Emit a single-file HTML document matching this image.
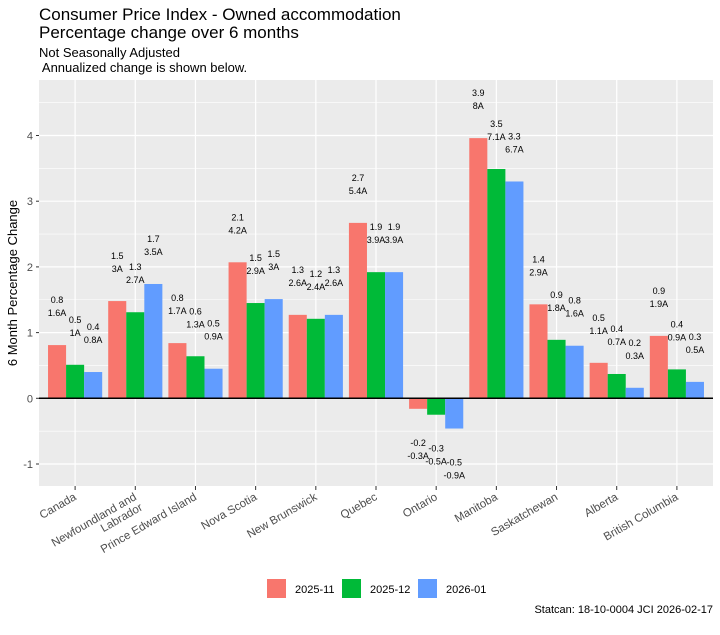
<!DOCTYPE html>
<html><head><meta charset="utf-8"><style>
body{margin:0;background:#fff;font-family:"Liberation Sans",Arial,sans-serif}
svg text{font-family:"Liberation Sans",Arial,sans-serif}
</style></head><body>
<svg id="chart" width="720" height="630" xmlns="http://www.w3.org/2000/svg">
<text x="39" y="20" font-size="17" fill="#000">Consumer Price Index - Owned accommodation</text>
<text x="39" y="38" font-size="17" fill="#000">Percentage change over 6 months</text>
<text x="39" y="57" font-size="13" fill="#000">Not Seasonally Adjusted</text>
<text x="39" y="72" font-size="13" fill="#000" xml:space="preserve"> Annualized change is shown below.</text>
<rect x="39" y="80" width="674" height="406" fill="#ebebeb"/>
<g id="grid"></g><g id="bars"></g><g id="labels"></g><g id="axes"></g>
<text transform="translate(17,283) rotate(-90)" text-anchor="middle" font-size="13" fill="#000">6 Month Percentage Change</text>
<g>
<rect x="267" y="579" width="19" height="19" fill="#f8766d"/>
<text x="295" y="593" font-size="11">2025-11</text>
<rect x="342" y="579" width="19" height="19" fill="#00ba38"/>
<text x="370" y="593" font-size="11">2025-12</text>
<rect x="418" y="579" width="19" height="19" fill="#619cff"/>
<text x="446" y="593" font-size="11">2026-01</text>
</g>
<text x="713" y="613" text-anchor="end" font-size="11">Statcan: 18-10-0004 JCI 2026-02-17</text>
</svg>
<script>
const categories=["Canada","Newfoundland and\nLabrador","Prince Edward Island","Nova Scotia","New Brunswick","Quebec","Ontario","Manitoba","Saskatchewan","Alberta","British Columbia"];
const seriesNames=["2025-11","2025-12","2026-01"];
const s2025_11=[0.81,1.48,0.84,2.07,1.27,2.67,-0.16,3.96,1.43,0.54,0.95];
const s2025_12=[0.51,1.31,0.64,1.45,1.21,1.92,-0.25,3.49,0.89,0.37,0.44];
const s2026_01=[0.40,1.74,0.45,1.51,1.27,1.92,-0.46,3.30,0.80,0.16,0.25];
const lab2025_11=["0.8|1.6A","1.5|3A","0.8|1.7A","2.1|4.2A","1.3|2.6A","2.7|5.4A","-0.2|-0.3A","3.9|8A","1.4|2.9A","0.5|1.1A","0.9|1.9A"];
const lab2025_12=["0.5|1A","1.3|2.7A","0.6|1.3A","1.5|2.9A","1.2|2.4A","1.9|3.9A","-0.3|-0.5A","3.5|7.1A","0.9|1.8A","0.4|0.7A","0.4|0.9A"];
const lab2026_01=["0.4|0.8A","1.7|3.5A","0.5|0.9A","1.5|3A","1.3|2.6A","1.9|3.9A","-0.5|-0.9A","3.3|6.7A","0.8|1.6A","0.2|0.3A","0.3|0.5A"];
const yTicks=[-1,0,1,2,3,4];
const series=[s2025_11,s2025_12,s2026_01];
const labels=[lab2025_11,lab2025_12,lab2026_01];
const colors=["#f8766d","#00ba38","#619cff"];
const NS="http://www.w3.org/2000/svg";
const L=39,R=713,T=80,B=486;
const step=(R-L)/(categories.length+0.2);
const xc=i=>L+step*(0.6+i);
const y=v=>398.3-v*65.7;
function mk(tag,attrs,parent){const e=document.createElementNS(NS,tag);for(const k in attrs)e.setAttribute(k,attrs[k]);parent.appendChild(e);return e;}
const grid=document.getElementById('grid'),bars=document.getElementById('bars'),lg=document.getElementById('labels'),axes=document.getElementById('axes');
for(let v=-1.5;v<=4.5;v+=1){const l=mk('line',{x1:L,x2:R,y1:y(v),y2:y(v),stroke:'#fff','stroke-width':0.6},grid);

}
yTicks.forEach(t=>{const l=mk('line',{x1:L,x2:R,y1:y(t),y2:y(t),stroke:'#fff','stroke-width':1.2},grid);


const tk=mk('line',{x1:L-3,x2:L,y1:y(t),y2:y(t),stroke:'#333','stroke-width':1},axes);


const tx=mk('text',{x:L-6,y:y(t)+4,'text-anchor':'end','font-size':11,fill:'#4d4d4d'},axes);tx.textContent=t;

});
categories.forEach((c,i)=>{const x=xc(i);
const g=mk('line',{x1:x,x2:x,y1:T,y2:B,stroke:'#fff','stroke-width':1.2},grid);


const tk=mk('line',{x1:x,x2:x,y1:B,y2:B+4,stroke:'#333','stroke-width':1},axes);


const lines=c.split('\n');
const t=mk('text',{transform:`translate(${x+2},${B+13}) rotate(-30)`,'text-anchor':'end','font-size':11.5,fill:'#4d4d4d'},axes);


lines.forEach((ln,k)=>{const ts=mk('tspan',{x:0,dy:k?12:0},t);ts.textContent=ln;

});
series.forEach((s,j)=>{const v=s[i];const bw=step*0.9/3;const bx=x-step*0.45+j*bw;
const r=mk('rect',{x:bx,y:Math.min(y(v),y(0)),width:bw,height:Math.abs(y(v)-y(0)),fill:colors[j]},bars);


const parts=labels[j][i].split('|');const cx=bx+bw/2;
const y1=v>=0?y(v)-46+4:y(v)+33+4;
parts.forEach((p,k)=>{const tx=mk('text',{x:cx,y:y1+k*13,'text-anchor':'middle','font-size':9,fill:'#000'},lg);tx.textContent=p;

});});});
const z=mk('line',{x1:L,x2:R,y1:y(0),y2:y(0),stroke:'#000','stroke-width':1.5},bars);


</script>
</body></html>
